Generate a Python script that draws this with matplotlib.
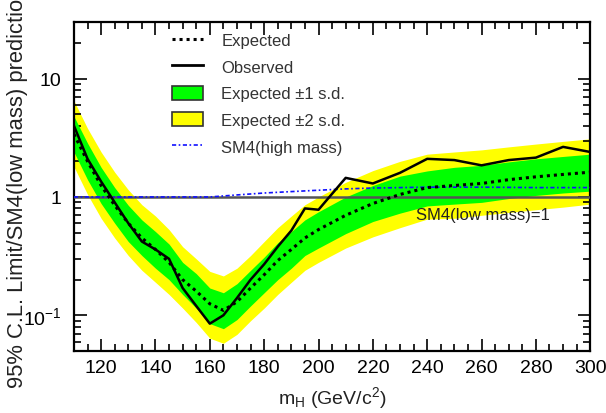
import matplotlib
matplotlib.use("Agg")
import matplotlib.pyplot as plt
from matplotlib.ticker import FixedLocator, FixedFormatter, MultipleLocator, LogLocator, NullFormatter
from matplotlib.patches import Patch
from matplotlib.lines import Line2D

plt.rcParams['font.family'] = ['Liberation Sans', 'DejaVu Sans']
plt.rcParams['mathtext.fontset'] = 'custom'
plt.rcParams['mathtext.rm'] = 'Liberation Sans'
plt.rcParams['mathtext.it'] = 'Liberation Sans:italic'

# Higgs mass points (GeV/c^2)
masses = [110, 115, 120, 125, 130, 135, 140, 145, 150, 155, 160, 165, 170, 175,
          180, 185, 190, 195, 200, 210, 220, 230, 240, 250, 260, 270, 280, 290, 300]

observed = [4.0, 2.1, 1.35, 0.9, 0.6, 0.42, 0.36, 0.3, 0.17, 0.12, 0.085, 0.1, 0.14, 0.2,
            0.27, 0.38, 0.52, 0.8, 0.78, 1.45, 1.3, 1.6, 2.1, 2.05, 1.85, 2.05, 2.15, 2.65, 2.4]

expected = [3.4, 2.0, 1.25, 0.85, 0.6, 0.45, 0.36, 0.28, 0.2, 0.16, 0.125, 0.11, 0.13, 0.17,
            0.22, 0.29, 0.36, 0.45, 0.53, 0.7, 0.88, 1.05, 1.2, 1.25, 1.3, 1.4, 1.48, 1.55, 1.62]

sd1_lo = [2.4, 1.4, 0.88, 0.6, 0.42, 0.32, 0.25, 0.2, 0.15, 0.115, 0.085, 0.077, 0.092, 0.12,
          0.155, 0.2, 0.25, 0.32, 0.37, 0.49, 0.62, 0.73, 0.84, 0.87, 0.9, 0.97, 1.03, 1.08, 1.12]
sd1_hi = [4.8, 2.85, 1.78, 1.2, 0.85, 0.64, 0.51, 0.4, 0.28, 0.225, 0.17, 0.155, 0.185, 0.24,
          0.31, 0.41, 0.51, 0.64, 0.75, 1.0, 1.25, 1.5, 1.66, 1.78, 1.85, 1.98, 2.1, 2.2, 2.3]
sd2_lo = [1.8, 1.05, 0.66, 0.45, 0.32, 0.24, 0.19, 0.15, 0.115, 0.087, 0.064, 0.058, 0.069, 0.09,
          0.115, 0.15, 0.19, 0.24, 0.28, 0.37, 0.46, 0.55, 0.65, 0.66, 0.7, 0.74, 0.78, 0.82, 0.87]
sd2_hi = [6.5, 3.8, 2.4, 1.62, 1.15, 0.86, 0.69, 0.53, 0.38, 0.3, 0.235, 0.215, 0.25, 0.32,
          0.42, 0.55, 0.69, 0.86, 1.0, 1.33, 1.67, 2.0, 2.3, 2.4, 2.5, 2.65, 2.8, 2.95, 3.1]

# SM4 high mass reference curve
hm_masses = [110, 160, 170, 180, 190, 200, 210, 220, 240, 260, 280, 300]
hm_ratio = [1.0, 1.0, 1.04, 1.08, 1.11, 1.14, 1.17, 1.19, 1.21, 1.21, 1.2, 1.2]

fig = plt.figure(figsize=(6.06, 4.14), dpi=100)
ax = fig.add_axes([0.122, 0.15, 0.852, 0.794])

ax.fill_between(masses, sd2_lo, sd2_hi, color='#ffff00', lw=0, zorder=1)
ax.fill_between(masses, sd1_lo, sd1_hi, color='#00ff00', lw=0, zorder=2)
ax.axhline(1.0, color='#555555', lw=1.8, zorder=3)
ax.plot(hm_masses, hm_ratio, color='#1010ff', lw=1.2, ls=(0, (2.5, 1.5, 1, 1.5)), zorder=4)
ax.plot(masses, expected, color='black', lw=2.2, ls=(0, (1, 1.3)), zorder=5)
ax.plot(masses, observed, color='black', lw=1.8, zorder=6)

ax.text(260.5, 0.71, 'SM4(low mass)=1', fontsize=12, ha='center', va='center', color='#222222')

ax.set_yscale('log')
ax.set_xlim(110, 300)
ax.set_ylim(0.05, 30)

ax.set_xticks([120, 140, 160, 180, 200, 220, 240, 260, 280, 300])
ax.xaxis.set_minor_locator(MultipleLocator(5))
ax.yaxis.set_major_locator(FixedLocator([0.1, 1, 10]))
ax.yaxis.set_major_formatter(FixedFormatter(['$10^{-1}$', '1', '10']))
ax.yaxis.set_minor_locator(LogLocator(base=10, subs=range(2, 10)))
ax.yaxis.set_minor_formatter(NullFormatter())

ax.tick_params(which='both', direction='in', top=True, right=True, width=1.2)
ax.tick_params(which='major', length=9, labelsize=14)
ax.tick_params(which='minor', length=5)
ax.tick_params(axis='x', which='major', pad=6)
ax.tick_params(axis='y', which='major', pad=9)
for sp in ax.spines.values():
    sp.set_linewidth(1.6)

ax.set_xlabel('m$_{\\mathrm{H}}$ (GeV/c$^{2}$)', fontsize=14, labelpad=6, color='#222222')
ax.set_ylabel('95% C.L. Limit/SM4(low mass) prediction', fontsize=15.8, color='#222222')
ax.yaxis.set_label_coords(-0.088, 0.5)

handles = [
    Line2D([], [], color='black', lw=2.2, ls=(0, (1, 1.3))),
    Line2D([], [], color='black', lw=2.0),
    Patch(facecolor='#00ff00', edgecolor='#333333', lw=1.2),
    Patch(facecolor='#ffff00', edgecolor='#333333', lw=1.2),
    Line2D([], [], color='#1010ff', lw=1.2, ls=(0, (2.5, 1.5, 1, 1.5))),
]
labels = ['Expected', 'Observed', 'Expected \u00b11 s.d.', 'Expected \u00b12 s.d.', 'SM4(high mass)']
leg = ax.legend(handles, labels, loc='upper left', bbox_to_anchor=(0.174, 0.994), frameon=False,
                fontsize=12, handlelength=1.85, handleheight=0.9, handletextpad=1.1,
                labelspacing=0.66, borderaxespad=0.1)
for t in leg.get_texts():
    t.set_color('#333333')

fig.savefig('out.png', dpi=100)
